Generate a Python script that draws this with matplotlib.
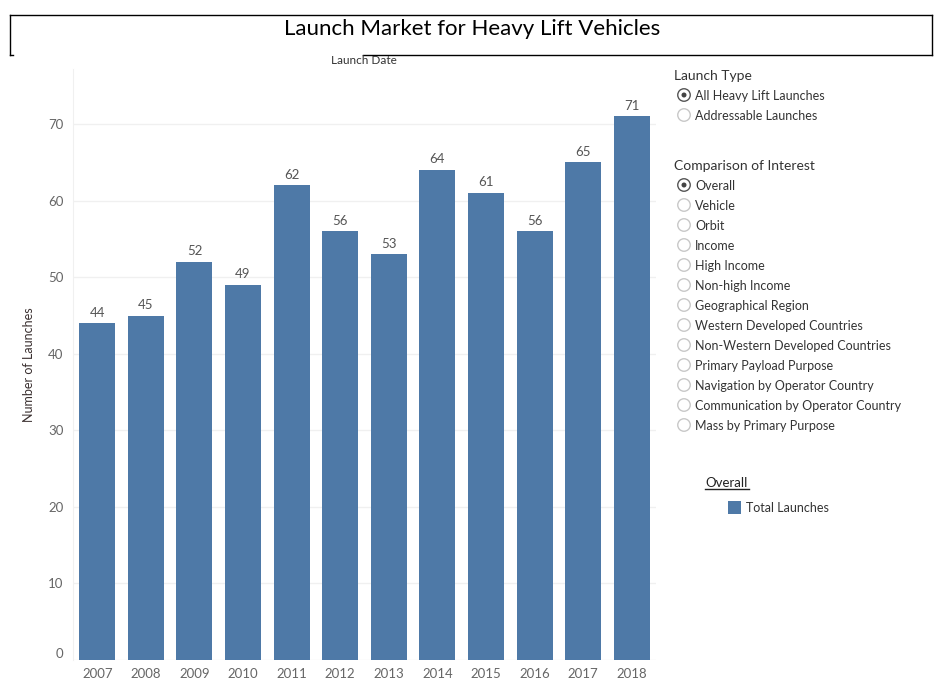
import matplotlib.pyplot as plt
from matplotlib.patches import Rectangle, Ellipse
from matplotlib.lines import Line2D

years = ['2007', '2008', '2009', '2010', '2011', '2012', '2013', '2014', '2015', '2016', '2017', '2018']
launches = [44, 45, 52, 49, 62, 56, 53, 64, 61, 56, 65, 71]

launch_types = ['All Heavy Lift Launches', 'Addressable Launches']
comparisons = ['Overall', 'Vehicle', 'Orbit', 'Income', 'High Income', 'Non-high Income',
               'Geographical Region', 'Western Developed Countries', 'Non-Western Developed Countries',
               'Primary Payload Purpose', 'Navigation by Operator Country',
               'Communication by Operator Country', 'Mass by Primary Purpose']

W, H = 941, 693
bar_color = '#4e79a7'
plt.rcParams['font.family'] = ['Lato', 'DejaVu Sans']

fig = plt.figure(figsize=(W / 100, H / 100), dpi=100)

def fx(px):
    return px / W

def fy(py):
    return 1 - py / H

# chart area
ax = fig.add_axes([fx(73), fy(660), fx(656) - fx(73), fy(69) - fy(660)])
x = list(range(len(years)))
ax.bar(x, launches, width=0.74, color=bar_color, zorder=3)
for xi, v in zip(x, launches):
    ax.text(xi, v + 0.6, str(v), ha='center', va='bottom', fontsize=9.5, color='#555555')
ax.set_xlim(-0.5, len(years) - 0.5)
ax.set_ylim(0, 77.2)
ax.set_yticks(range(0, 80, 10))
ax.set_xticks(x)
ax.set_xticklabels(years)
ax.tick_params(axis='both', length=0, labelsize=9.5, labelcolor='#666666')
ax.tick_params(axis='y', pad=7)
ax.tick_params(axis='x', pad=6)
ax.get_yticklabels()[0].set_va('bottom')
ax.grid(axis='y', color='#f0f0f0', linewidth=1, zorder=0)
for s in ['top', 'right', 'bottom']:
    ax.spines[s].set_visible(False)
ax.spines['left'].set_color('#f0f0f0')
ax.set_ylabel('Number of Launches', fontsize=9, color='#3a3030', labelpad=9)

# title box
fig.add_artist(Line2D([fx(10), fx(932)], [fy(15), fy(15)], color='black', lw=1))
fig.add_artist(Line2D([fx(10), fx(10)], [fy(15), fy(55)], color='black', lw=1))
fig.add_artist(Line2D([fx(932), fx(932)], [fy(15), fy(55)], color='black', lw=1))
fig.add_artist(Line2D([fx(10), fx(13)], [fy(55), fy(55)], color='black', lw=1))
fig.add_artist(Line2D([fx(363), fx(932)], [fy(55), fy(55)], color='black', lw=1))
fig.text(fx(472), fy(29), 'Launch Market for Heavy Lift Vehicles', ha='center', va='center',
         fontsize=16, color='black')
fig.text(fx(364), fy(60), 'Launch Date', ha='center', va='center', fontsize=8.5, color='#333333')

# side panel
def radio(py, label, selected):
    cx = 684
    fig.add_artist(Ellipse((fx(cx), fy(py)), 12.5 / W, 12.5 / H, transform=fig.transFigure,
                           facecolor='white', edgecolor='#555555' if selected else '#c8c8c8', lw=1))
    if selected:
        fig.add_artist(Ellipse((fx(cx), fy(py)), 5 / W, 5 / H, transform=fig.transFigure,
                               facecolor='#444444', edgecolor='none'))
    fig.text(fx(695), fy(py + 1), label, ha='left', va='center', fontsize=9, color='#333333')

fig.text(fx(674), fy(76), 'Launch Type', ha='left', va='center', fontsize=10, color='#333333')
for i, lab in enumerate(launch_types):
    radio(95 + 20 * i, lab, i == 0)

fig.text(fx(674), fy(166), 'Comparison of Interest', ha='left', va='center', fontsize=10, color='#333333')
for i, lab in enumerate(comparisons):
    radio(185 + 20 * i, lab, i == 0)

fig.text(fx(705), fy(483), 'Overall', ha='left', va='center', fontsize=9.5, color='#222222')
fig.add_artist(Line2D([fx(705), fx(749)], [fy(489), fy(489)], color='#222222', lw=1))
fig.add_artist(Rectangle((fx(728), fy(514)), 13 / W, 13 / H, transform=fig.transFigure,
                         facecolor=bar_color, edgecolor='none'))
fig.text(fx(746), fy(508), 'Total Launches', ha='left', va='center', fontsize=9, color='#333333')

fig.savefig('out.png', dpi=100)
